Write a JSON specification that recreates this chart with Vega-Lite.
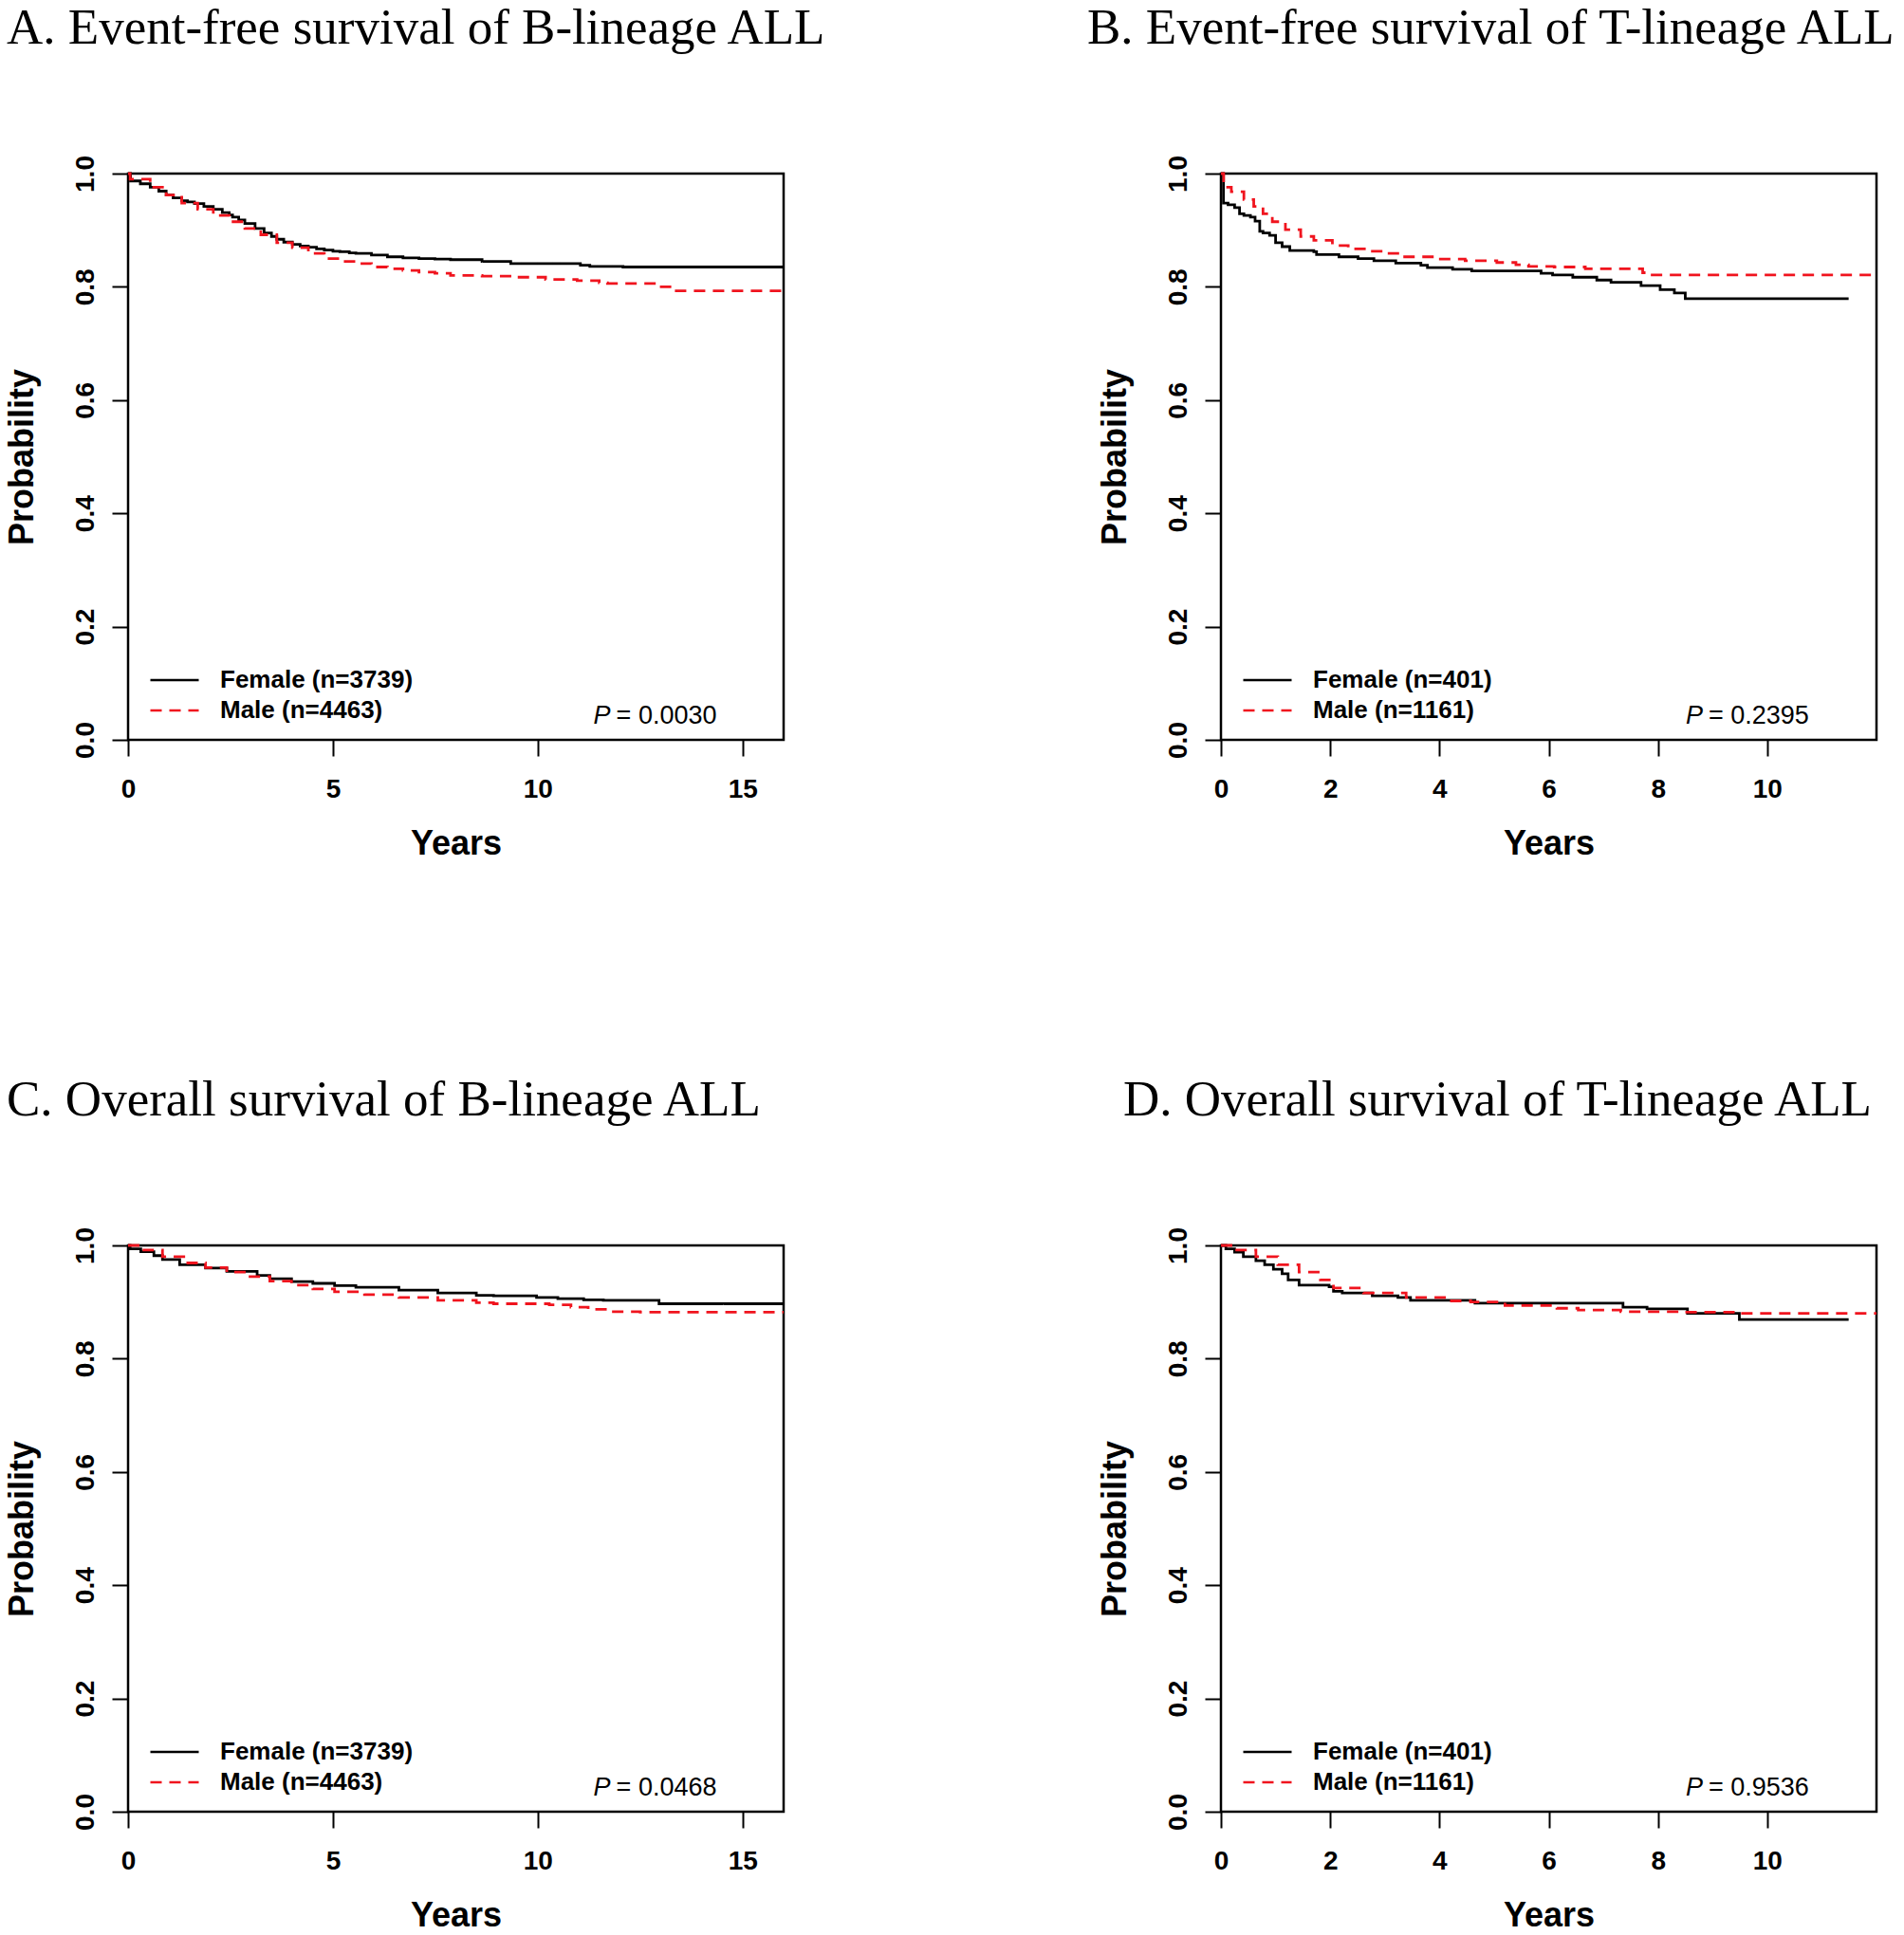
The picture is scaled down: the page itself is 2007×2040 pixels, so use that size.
{
  "$schema": "https://vega.github.io/schema/vega-lite/v6.json",
  "background": "white",
  "padding": {"left": 3, "top": 2, "right": 0, "bottom": 0},
  "datasets": {
    "km": [
      {"panel":"A","group":"Female (n=3739)","t":0,"s":1.0},
      {"panel":"A","group":"Female (n=3739)","t":0.06,"s":0.987},
      {"panel":"A","group":"Female (n=3739)","t":0.3,"s":0.982},
      {"panel":"A","group":"Female (n=3739)","t":0.54,"s":0.976},
      {"panel":"A","group":"Female (n=3739)","t":0.75,"s":0.969},
      {"panel":"A","group":"Female (n=3739)","t":0.93,"s":0.962},
      {"panel":"A","group":"Female (n=3739)","t":1.1,"s":0.957},
      {"panel":"A","group":"Female (n=3739)","t":1.31,"s":0.952},
      {"panel":"A","group":"Female (n=3739)","t":1.45,"s":0.95},
      {"panel":"A","group":"Female (n=3739)","t":1.62,"s":0.947},
      {"panel":"A","group":"Female (n=3739)","t":1.85,"s":0.942},
      {"panel":"A","group":"Female (n=3739)","t":2.08,"s":0.937},
      {"panel":"A","group":"Female (n=3739)","t":2.3,"s":0.931},
      {"panel":"A","group":"Female (n=3739)","t":2.47,"s":0.927},
      {"panel":"A","group":"Female (n=3739)","t":2.55,"s":0.923},
      {"panel":"A","group":"Female (n=3739)","t":2.7,"s":0.918},
      {"panel":"A","group":"Female (n=3739)","t":2.85,"s":0.912},
      {"panel":"A","group":"Female (n=3739)","t":3.1,"s":0.903},
      {"panel":"A","group":"Female (n=3739)","t":3.32,"s":0.895},
      {"panel":"A","group":"Female (n=3739)","t":3.5,"s":0.889},
      {"panel":"A","group":"Female (n=3739)","t":3.63,"s":0.884},
      {"panel":"A","group":"Female (n=3739)","t":3.8,"s":0.879},
      {"panel":"A","group":"Female (n=3739)","t":4.01,"s":0.875},
      {"panel":"A","group":"Female (n=3739)","t":4.2,"s":0.872},
      {"panel":"A","group":"Female (n=3739)","t":4.4,"s":0.87},
      {"panel":"A","group":"Female (n=3739)","t":4.6,"s":0.867},
      {"panel":"A","group":"Female (n=3739)","t":4.79,"s":0.865},
      {"panel":"A","group":"Female (n=3739)","t":5.0,"s":0.863},
      {"panel":"A","group":"Female (n=3739)","t":5.17,"s":0.862},
      {"panel":"A","group":"Female (n=3739)","t":5.4,"s":0.86},
      {"panel":"A","group":"Female (n=3739)","t":5.56,"s":0.859},
      {"panel":"A","group":"Female (n=3739)","t":5.94,"s":0.856},
      {"panel":"A","group":"Female (n=3739)","t":6.33,"s":0.853},
      {"panel":"A","group":"Female (n=3739)","t":6.71,"s":0.851},
      {"panel":"A","group":"Female (n=3739)","t":7.1,"s":0.85},
      {"panel":"A","group":"Female (n=3739)","t":7.49,"s":0.849},
      {"panel":"A","group":"Female (n=3739)","t":7.87,"s":0.848},
      {"panel":"A","group":"Female (n=3739)","t":8.64,"s":0.845},
      {"panel":"A","group":"Female (n=3739)","t":9.34,"s":0.841},
      {"panel":"A","group":"Female (n=3739)","t":11.04,"s":0.838},
      {"panel":"A","group":"Female (n=3739)","t":11.27,"s":0.836},
      {"panel":"A","group":"Female (n=3739)","t":12.08,"s":0.835},
      {"panel":"A","group":"Female (n=3739)","t":16.0,"s":0.835},
      {"panel":"A","group":"Male (n=4463)","t":0,"s":1.0},
      {"panel":"A","group":"Male (n=4463)","t":0.05,"s":0.99},
      {"panel":"A","group":"Male (n=4463)","t":0.54,"s":0.976},
      {"panel":"A","group":"Male (n=4463)","t":0.93,"s":0.962},
      {"panel":"A","group":"Male (n=4463)","t":1.31,"s":0.948},
      {"panel":"A","group":"Male (n=4463)","t":1.7,"s":0.937},
      {"panel":"A","group":"Male (n=4463)","t":2.08,"s":0.926},
      {"panel":"A","group":"Male (n=4463)","t":2.47,"s":0.915},
      {"panel":"A","group":"Male (n=4463)","t":2.85,"s":0.903},
      {"panel":"A","group":"Male (n=4463)","t":3.24,"s":0.892},
      {"panel":"A","group":"Male (n=4463)","t":3.63,"s":0.878},
      {"panel":"A","group":"Male (n=4463)","t":4.01,"s":0.869},
      {"panel":"A","group":"Male (n=4463)","t":4.4,"s":0.859},
      {"panel":"A","group":"Male (n=4463)","t":4.79,"s":0.85},
      {"panel":"A","group":"Male (n=4463)","t":5.17,"s":0.845},
      {"panel":"A","group":"Male (n=4463)","t":5.56,"s":0.841},
      {"panel":"A","group":"Male (n=4463)","t":5.94,"s":0.835},
      {"panel":"A","group":"Male (n=4463)","t":6.33,"s":0.832},
      {"panel":"A","group":"Male (n=4463)","t":6.71,"s":0.829},
      {"panel":"A","group":"Male (n=4463)","t":7.1,"s":0.826},
      {"panel":"A","group":"Male (n=4463)","t":7.49,"s":0.824},
      {"panel":"A","group":"Male (n=4463)","t":7.87,"s":0.82},
      {"panel":"A","group":"Male (n=4463)","t":8.64,"s":0.819},
      {"panel":"A","group":"Male (n=4463)","t":9.42,"s":0.817},
      {"panel":"A","group":"Male (n=4463)","t":10.19,"s":0.813},
      {"panel":"A","group":"Male (n=4463)","t":10.96,"s":0.811},
      {"panel":"A","group":"Male (n=4463)","t":11.5,"s":0.807},
      {"panel":"A","group":"Male (n=4463)","t":11.7,"s":0.806},
      {"panel":"A","group":"Male (n=4463)","t":12.97,"s":0.8},
      {"panel":"A","group":"Male (n=4463)","t":13.27,"s":0.793},
      {"panel":"A","group":"Male (n=4463)","t":16.0,"s":0.793},
      {"panel":"B","group":"Female (n=401)","t":0,"s":1.0},
      {"panel":"B","group":"Female (n=401)","t":0.046,"s":0.948},
      {"panel":"B","group":"Female (n=401)","t":0.13,"s":0.945},
      {"panel":"B","group":"Female (n=401)","t":0.25,"s":0.94},
      {"panel":"B","group":"Female (n=401)","t":0.34,"s":0.929},
      {"panel":"B","group":"Female (n=401)","t":0.42,"s":0.926},
      {"panel":"B","group":"Female (n=401)","t":0.54,"s":0.923},
      {"panel":"B","group":"Female (n=401)","t":0.625,"s":0.916},
      {"panel":"B","group":"Female (n=401)","t":0.71,"s":0.898},
      {"panel":"B","group":"Female (n=401)","t":0.77,"s":0.895},
      {"panel":"B","group":"Female (n=401)","t":0.89,"s":0.891},
      {"panel":"B","group":"Female (n=401)","t":1.0,"s":0.878},
      {"panel":"B","group":"Female (n=401)","t":1.12,"s":0.871},
      {"panel":"B","group":"Female (n=401)","t":1.26,"s":0.864},
      {"panel":"B","group":"Female (n=401)","t":1.7,"s":0.862},
      {"panel":"B","group":"Female (n=401)","t":1.75,"s":0.857},
      {"panel":"B","group":"Female (n=401)","t":2.16,"s":0.853},
      {"panel":"B","group":"Female (n=401)","t":2.51,"s":0.85},
      {"panel":"B","group":"Female (n=401)","t":2.8,"s":0.846},
      {"panel":"B","group":"Female (n=401)","t":3.2,"s":0.842},
      {"panel":"B","group":"Female (n=401)","t":3.66,"s":0.838},
      {"panel":"B","group":"Female (n=401)","t":3.78,"s":0.834},
      {"panel":"B","group":"Female (n=401)","t":4.24,"s":0.831},
      {"panel":"B","group":"Female (n=401)","t":4.59,"s":0.828},
      {"panel":"B","group":"Female (n=401)","t":5.86,"s":0.824},
      {"panel":"B","group":"Female (n=401)","t":6.07,"s":0.821},
      {"panel":"B","group":"Female (n=401)","t":6.44,"s":0.817},
      {"panel":"B","group":"Female (n=401)","t":6.88,"s":0.812},
      {"panel":"B","group":"Female (n=401)","t":7.14,"s":0.808},
      {"panel":"B","group":"Female (n=401)","t":7.69,"s":0.802},
      {"panel":"B","group":"Female (n=401)","t":8.04,"s":0.795},
      {"panel":"B","group":"Female (n=401)","t":8.3,"s":0.789},
      {"panel":"B","group":"Female (n=401)","t":8.5,"s":0.779},
      {"panel":"B","group":"Female (n=401)","t":11.49,"s":0.779},
      {"panel":"B","group":"Male (n=1161)","t":0,"s":1.0},
      {"panel":"B","group":"Male (n=1161)","t":0.05,"s":0.976},
      {"panel":"B","group":"Male (n=1161)","t":0.19,"s":0.968},
      {"panel":"B","group":"Male (n=1161)","t":0.42,"s":0.954},
      {"panel":"B","group":"Male (n=1161)","t":0.6,"s":0.942},
      {"panel":"B","group":"Male (n=1161)","t":0.77,"s":0.929},
      {"panel":"B","group":"Male (n=1161)","t":0.94,"s":0.915},
      {"panel":"B","group":"Male (n=1161)","t":1.18,"s":0.901},
      {"panel":"B","group":"Male (n=1161)","t":1.46,"s":0.889},
      {"panel":"B","group":"Male (n=1161)","t":1.7,"s":0.882},
      {"panel":"B","group":"Male (n=1161)","t":2.04,"s":0.873},
      {"panel":"B","group":"Male (n=1161)","t":2.33,"s":0.867},
      {"panel":"B","group":"Male (n=1161)","t":2.74,"s":0.863},
      {"panel":"B","group":"Male (n=1161)","t":3.03,"s":0.859},
      {"panel":"B","group":"Male (n=1161)","t":3.32,"s":0.853},
      {"panel":"B","group":"Male (n=1161)","t":3.9,"s":0.849},
      {"panel":"B","group":"Male (n=1161)","t":4.47,"s":0.846},
      {"panel":"B","group":"Male (n=1161)","t":5.05,"s":0.843},
      {"panel":"B","group":"Male (n=1161)","t":5.4,"s":0.839},
      {"panel":"B","group":"Male (n=1161)","t":5.63,"s":0.836},
      {"panel":"B","group":"Male (n=1161)","t":6.1,"s":0.835},
      {"panel":"B","group":"Male (n=1161)","t":6.67,"s":0.832},
      {"panel":"B","group":"Male (n=1161)","t":7.72,"s":0.825},
      {"panel":"B","group":"Male (n=1161)","t":7.83,"s":0.821},
      {"panel":"B","group":"Male (n=1161)","t":12.0,"s":0.821},
      {"panel":"C","group":"Female (n=3739)","t":0,"s":1.0},
      {"panel":"C","group":"Female (n=3739)","t":0.05,"s":0.994},
      {"panel":"C","group":"Female (n=3739)","t":0.31,"s":0.989},
      {"panel":"C","group":"Female (n=3739)","t":0.63,"s":0.982},
      {"panel":"C","group":"Female (n=3739)","t":0.84,"s":0.975},
      {"panel":"C","group":"Female (n=3739)","t":1.26,"s":0.966},
      {"panel":"C","group":"Female (n=3739)","t":1.89,"s":0.96},
      {"panel":"C","group":"Female (n=3739)","t":2.41,"s":0.954},
      {"panel":"C","group":"Female (n=3739)","t":3.15,"s":0.947},
      {"panel":"C","group":"Female (n=3739)","t":3.46,"s":0.941},
      {"panel":"C","group":"Female (n=3739)","t":3.99,"s":0.936},
      {"panel":"C","group":"Female (n=3739)","t":4.51,"s":0.933},
      {"panel":"C","group":"Female (n=3739)","t":5.04,"s":0.929},
      {"panel":"C","group":"Female (n=3739)","t":5.56,"s":0.926},
      {"panel":"C","group":"Female (n=3739)","t":6.61,"s":0.921},
      {"panel":"C","group":"Female (n=3739)","t":7.56,"s":0.916},
      {"panel":"C","group":"Female (n=3739)","t":8.5,"s":0.912},
      {"panel":"C","group":"Female (n=3739)","t":8.92,"s":0.911},
      {"panel":"C","group":"Female (n=3739)","t":9.97,"s":0.908},
      {"panel":"C","group":"Female (n=3739)","t":10.49,"s":0.906},
      {"panel":"C","group":"Female (n=3739)","t":11.12,"s":0.904},
      {"panel":"C","group":"Female (n=3739)","t":11.6,"s":0.903},
      {"panel":"C","group":"Female (n=3739)","t":12.96,"s":0.897},
      {"panel":"C","group":"Female (n=3739)","t":16.0,"s":0.897},
      {"panel":"C","group":"Male (n=4463)","t":0,"s":1.0},
      {"panel":"C","group":"Male (n=4463)","t":0.31,"s":0.992},
      {"panel":"C","group":"Male (n=4463)","t":0.84,"s":0.98},
      {"panel":"C","group":"Male (n=4463)","t":1.36,"s":0.969},
      {"panel":"C","group":"Male (n=4463)","t":1.89,"s":0.961},
      {"panel":"C","group":"Male (n=4463)","t":2.41,"s":0.953},
      {"panel":"C","group":"Male (n=4463)","t":2.94,"s":0.945},
      {"panel":"C","group":"Male (n=4463)","t":3.46,"s":0.937},
      {"panel":"C","group":"Male (n=4463)","t":3.99,"s":0.93},
      {"panel":"C","group":"Male (n=4463)","t":4.51,"s":0.923},
      {"panel":"C","group":"Male (n=4463)","t":5.04,"s":0.918},
      {"panel":"C","group":"Male (n=4463)","t":5.77,"s":0.913},
      {"panel":"C","group":"Male (n=4463)","t":6.61,"s":0.908},
      {"panel":"C","group":"Male (n=4463)","t":7.56,"s":0.903},
      {"panel":"C","group":"Male (n=4463)","t":8.5,"s":0.899},
      {"panel":"C","group":"Male (n=4463)","t":8.92,"s":0.897},
      {"panel":"C","group":"Male (n=4463)","t":10.28,"s":0.895},
      {"panel":"C","group":"Male (n=4463)","t":10.81,"s":0.891},
      {"panel":"C","group":"Male (n=4463)","t":11.23,"s":0.887},
      {"panel":"C","group":"Male (n=4463)","t":11.75,"s":0.883},
      {"panel":"C","group":"Male (n=4463)","t":12.5,"s":0.882},
      {"panel":"C","group":"Male (n=4463)","t":16.0,"s":0.882},
      {"panel":"D","group":"Female (n=401)","t":0,"s":1.0},
      {"panel":"D","group":"Female (n=401)","t":0.09,"s":0.994},
      {"panel":"D","group":"Female (n=401)","t":0.25,"s":0.988},
      {"panel":"D","group":"Female (n=401)","t":0.41,"s":0.98},
      {"panel":"D","group":"Female (n=401)","t":0.64,"s":0.973},
      {"panel":"D","group":"Female (n=401)","t":0.8,"s":0.966},
      {"panel":"D","group":"Female (n=401)","t":0.96,"s":0.958},
      {"panel":"D","group":"Female (n=401)","t":1.12,"s":0.95},
      {"panel":"D","group":"Female (n=401)","t":1.23,"s":0.939},
      {"panel":"D","group":"Female (n=401)","t":1.43,"s":0.93},
      {"panel":"D","group":"Female (n=401)","t":1.98,"s":0.927},
      {"panel":"D","group":"Female (n=401)","t":2.06,"s":0.919},
      {"panel":"D","group":"Female (n=401)","t":2.22,"s":0.916},
      {"panel":"D","group":"Female (n=401)","t":2.77,"s":0.911},
      {"panel":"D","group":"Female (n=401)","t":3.24,"s":0.908},
      {"panel":"D","group":"Female (n=401)","t":3.47,"s":0.903},
      {"panel":"D","group":"Female (n=401)","t":4.65,"s":0.898},
      {"panel":"D","group":"Female (n=401)","t":7.36,"s":0.891},
      {"panel":"D","group":"Female (n=401)","t":7.8,"s":0.888},
      {"panel":"D","group":"Female (n=401)","t":8.54,"s":0.88},
      {"panel":"D","group":"Female (n=401)","t":9.49,"s":0.869},
      {"panel":"D","group":"Female (n=401)","t":11.49,"s":0.869},
      {"panel":"D","group":"Male (n=1161)","t":0,"s":1.0},
      {"panel":"D","group":"Male (n=1161)","t":0.25,"s":0.992},
      {"panel":"D","group":"Male (n=1161)","t":0.64,"s":0.98},
      {"panel":"D","group":"Male (n=1161)","t":1.04,"s":0.966},
      {"panel":"D","group":"Male (n=1161)","t":1.43,"s":0.953},
      {"panel":"D","group":"Male (n=1161)","t":1.82,"s":0.939},
      {"panel":"D","group":"Male (n=1161)","t":2.06,"s":0.925},
      {"panel":"D","group":"Male (n=1161)","t":2.61,"s":0.916},
      {"panel":"D","group":"Male (n=1161)","t":3.39,"s":0.908},
      {"panel":"D","group":"Male (n=1161)","t":4.18,"s":0.902},
      {"panel":"D","group":"Male (n=1161)","t":4.57,"s":0.9},
      {"panel":"D","group":"Male (n=1161)","t":5.2,"s":0.894},
      {"panel":"D","group":"Male (n=1161)","t":6.15,"s":0.889},
      {"panel":"D","group":"Male (n=1161)","t":6.54,"s":0.886},
      {"panel":"D","group":"Male (n=1161)","t":7.32,"s":0.883},
      {"panel":"D","group":"Male (n=1161)","t":8.5,"s":0.882},
      {"panel":"D","group":"Male (n=1161)","t":9.45,"s":0.88},
      {"panel":"D","group":"Male (n=1161)","t":12.0,"s":0.88}
    ]
  },
  "config": {
    "view": {"stroke": "black", "strokeWidth": 2.5},
    "font": "Liberation Sans",
    "axis": {
      "domain": false, "grid": false, "tickColor": "black", "tickWidth": 2, "tickSize": 17,
      "labelColor": "black", "labelFont": "Liberation Sans", "labelFontWeight": "bold", "labelFontSize": 28,
      "labelFlush": false, "labelOverlap": false,
      "titleColor": "black", "titleFont": "Liberation Sans", "titleFontWeight": "bold", "titleFontSize": 36
    },
    "axisX": {"labelAngle": 0, "labelBaseline": "alphabetic", "labelPadding": 43, "titleBaseline": "alphabetic", "titleY": 120},
    "axisY": {"labelAngle": 270, "labelAlign": "center", "labelBaseline": "alphabetic", "labelPadding": 20, "titleAngle": 270, "titleAlign": "center", "titleBaseline": "alphabetic", "titleX": -101, "titleY": 298.5},
    "title": {"font": "Liberation Serif", "fontSize": 53, "fontWeight": "normal", "color": "black", "anchor": "start", "frame": "group", "baseline": "alphabetic", "offset": 107}
  },
  "columns": 2,
  "spacing": {"row": 533, "column": 461},
  "bounds": "flush",
  "resolve": {"scale": {"color": "independent", "strokeDash": "independent", "x": "independent", "y": "independent"}, "legend": {"color": "independent", "strokeDash": "independent"}},
  "concat": [
    {
      "title": {"text": "A. Event-free survival of B-lineage ALL", "dx": -128},
      "width": 691, "height": 597,
      "layer": [
        {
          "data": {"name": "km"},
          "transform": [{"filter": "datum.panel === 'A'"}],
          "mark": {"type": "line", "interpolate": "step-after", "strokeWidth": 2.8, "strokeCap": "butt"},
          "encoding": {
            "x": {"field": "t", "type": "quantitative", "scale": {"domain": [0, 16], "nice": false, "zero": false}, "axis": {"values": [0, 5, 10, 15], "format": "d", "title": "Years"}},
            "y": {"field": "s", "type": "quantitative", "scale": {"domain": [0, 1], "nice": false}, "axis": {"values": [0, 0.2, 0.4, 0.6, 0.8, 1.0], "format": ".1f", "title": "Probability"}},
            "color": {"field": "group", "type": "nominal", "scale": {"domain": ["Female (n=3739)", "Male (n=4463)"], "range": ["black", "#f0141e"]},
              "legend": {"title": null, "orient": "none", "legendX": 22, "legendY": 518, "symbolType": "stroke", "symbolSize": 2601, "symbolStrokeWidth": 2.5, "clipHeight": 32, "rowPadding": 0, "padding": 0, "labelOffset": 21, "labelFont": "Liberation Sans", "labelFontWeight": "bold", "labelFontSize": 26, "labelColor": "black", "labelLimit": 400}},
            "strokeDash": {"field": "group", "type": "nominal", "scale": {"domain": ["Female (n=3739)", "Male (n=4463)"], "range": [[1, 0], [12, 8]]},
              "legend": {"title": null, "orient": "none", "legendX": 22, "legendY": 518, "symbolType": "stroke", "symbolSize": 2601, "symbolStrokeWidth": 2.5, "clipHeight": 32, "rowPadding": 0, "padding": 0, "labelOffset": 21, "labelFont": "Liberation Sans", "labelFontWeight": "bold", "labelFontSize": 26, "labelColor": "black", "labelLimit": 400}}
          }
        },
        {
          "data": {"values": [{}]},
          "mark": {"type": "text", "text": "P", "font": "Liberation Sans", "fontStyle": "italic", "fontSize": 27, "align": "left", "baseline": "alphabetic", "color": "black"},
          "encoding": {"x": {"datum": 11.36, "type": "quantitative"}, "y": {"datum": 0.028, "type": "quantitative"}}
        },
        {
          "data": {"values": [{}]},
          "mark": {"type": "text", "text": "= 0.0030", "dx": 24, "font": "Liberation Sans", "fontSize": 27, "align": "left", "baseline": "alphabetic", "color": "black"},
          "encoding": {"x": {"datum": 11.36, "type": "quantitative"}, "y": {"datum": 0.028, "type": "quantitative"}}
        }
      ]
    },
    {
      "title": {"text": "B. Event-free survival of T-lineage ALL", "dx": -141},
      "width": 691, "height": 597,
      "layer": [
        {
          "data": {"name": "km"},
          "transform": [{"filter": "datum.panel === 'B'"}],
          "mark": {"type": "line", "interpolate": "step-after", "strokeWidth": 2.8, "strokeCap": "butt"},
          "encoding": {
            "x": {"field": "t", "type": "quantitative", "scale": {"domain": [0, 12], "nice": false, "zero": false}, "axis": {"values": [0, 2, 4, 6, 8, 10], "format": "d", "title": "Years"}},
            "y": {"field": "s", "type": "quantitative", "scale": {"domain": [0, 1], "nice": false}, "axis": {"values": [0, 0.2, 0.4, 0.6, 0.8, 1.0], "format": ".1f", "title": "Probability"}},
            "color": {"field": "group", "type": "nominal", "scale": {"domain": ["Female (n=401)", "Male (n=1161)"], "range": ["black", "#f0141e"]},
              "legend": {"title": null, "orient": "none", "legendX": 22, "legendY": 518, "symbolType": "stroke", "symbolSize": 2601, "symbolStrokeWidth": 2.5, "clipHeight": 32, "rowPadding": 0, "padding": 0, "labelOffset": 21, "labelFont": "Liberation Sans", "labelFontWeight": "bold", "labelFontSize": 26, "labelColor": "black", "labelLimit": 400}},
            "strokeDash": {"field": "group", "type": "nominal", "scale": {"domain": ["Female (n=401)", "Male (n=1161)"], "range": [[1, 0], [12, 8]]},
              "legend": {"title": null, "orient": "none", "legendX": 22, "legendY": 518, "symbolType": "stroke", "symbolSize": 2601, "symbolStrokeWidth": 2.5, "clipHeight": 32, "rowPadding": 0, "padding": 0, "labelOffset": 21, "labelFont": "Liberation Sans", "labelFontWeight": "bold", "labelFontSize": 26, "labelColor": "black", "labelLimit": 400}}
          }
        },
        {
          "data": {"values": [{}]},
          "mark": {"type": "text", "text": "P", "font": "Liberation Sans", "fontStyle": "italic", "fontSize": 27, "align": "left", "baseline": "alphabetic", "color": "black"},
          "encoding": {"x": {"datum": 8.51, "type": "quantitative"}, "y": {"datum": 0.028, "type": "quantitative"}}
        },
        {
          "data": {"values": [{}]},
          "mark": {"type": "text", "text": "= 0.2395", "dx": 24, "font": "Liberation Sans", "fontSize": 27, "align": "left", "baseline": "alphabetic", "color": "black"},
          "encoding": {"x": {"datum": 8.51, "type": "quantitative"}, "y": {"datum": 0.028, "type": "quantitative"}}
        }
      ]
    },
    {
      "title": {"text": "C. Overall survival of B-lineage ALL", "dx": -128},
      "width": 691, "height": 597,
      "layer": [
        {
          "data": {"name": "km"},
          "transform": [{"filter": "datum.panel === 'C'"}],
          "mark": {"type": "line", "interpolate": "step-after", "strokeWidth": 2.8, "strokeCap": "butt"},
          "encoding": {
            "x": {"field": "t", "type": "quantitative", "scale": {"domain": [0, 16], "nice": false, "zero": false}, "axis": {"values": [0, 5, 10, 15], "format": "d", "title": "Years"}},
            "y": {"field": "s", "type": "quantitative", "scale": {"domain": [0, 1], "nice": false}, "axis": {"values": [0, 0.2, 0.4, 0.6, 0.8, 1.0], "format": ".1f", "title": "Probability"}},
            "color": {"field": "group", "type": "nominal", "scale": {"domain": ["Female (n=3739)", "Male (n=4463)"], "range": ["black", "#f0141e"]},
              "legend": {"title": null, "orient": "none", "legendX": 22, "legendY": 518, "symbolType": "stroke", "symbolSize": 2601, "symbolStrokeWidth": 2.5, "clipHeight": 32, "rowPadding": 0, "padding": 0, "labelOffset": 21, "labelFont": "Liberation Sans", "labelFontWeight": "bold", "labelFontSize": 26, "labelColor": "black", "labelLimit": 400}},
            "strokeDash": {"field": "group", "type": "nominal", "scale": {"domain": ["Female (n=3739)", "Male (n=4463)"], "range": [[1, 0], [12, 8]]},
              "legend": {"title": null, "orient": "none", "legendX": 22, "legendY": 518, "symbolType": "stroke", "symbolSize": 2601, "symbolStrokeWidth": 2.5, "clipHeight": 32, "rowPadding": 0, "padding": 0, "labelOffset": 21, "labelFont": "Liberation Sans", "labelFontWeight": "bold", "labelFontSize": 26, "labelColor": "black", "labelLimit": 400}}
          }
        },
        {
          "data": {"values": [{}]},
          "mark": {"type": "text", "text": "P", "font": "Liberation Sans", "fontStyle": "italic", "fontSize": 27, "align": "left", "baseline": "alphabetic", "color": "black"},
          "encoding": {"x": {"datum": 11.36, "type": "quantitative"}, "y": {"datum": 0.028, "type": "quantitative"}}
        },
        {
          "data": {"values": [{}]},
          "mark": {"type": "text", "text": "= 0.0468", "dx": 24, "font": "Liberation Sans", "fontSize": 27, "align": "left", "baseline": "alphabetic", "color": "black"},
          "encoding": {"x": {"datum": 11.36, "type": "quantitative"}, "y": {"datum": 0.028, "type": "quantitative"}}
        }
      ]
    },
    {
      "title": {"text": "D. Overall survival of T-lineage ALL", "dx": -103},
      "width": 691, "height": 597,
      "layer": [
        {
          "data": {"name": "km"},
          "transform": [{"filter": "datum.panel === 'D'"}],
          "mark": {"type": "line", "interpolate": "step-after", "strokeWidth": 2.8, "strokeCap": "butt"},
          "encoding": {
            "x": {"field": "t", "type": "quantitative", "scale": {"domain": [0, 12], "nice": false, "zero": false}, "axis": {"values": [0, 2, 4, 6, 8, 10], "format": "d", "title": "Years"}},
            "y": {"field": "s", "type": "quantitative", "scale": {"domain": [0, 1], "nice": false}, "axis": {"values": [0, 0.2, 0.4, 0.6, 0.8, 1.0], "format": ".1f", "title": "Probability"}},
            "color": {"field": "group", "type": "nominal", "scale": {"domain": ["Female (n=401)", "Male (n=1161)"], "range": ["black", "#f0141e"]},
              "legend": {"title": null, "orient": "none", "legendX": 22, "legendY": 518, "symbolType": "stroke", "symbolSize": 2601, "symbolStrokeWidth": 2.5, "clipHeight": 32, "rowPadding": 0, "padding": 0, "labelOffset": 21, "labelFont": "Liberation Sans", "labelFontWeight": "bold", "labelFontSize": 26, "labelColor": "black", "labelLimit": 400}},
            "strokeDash": {"field": "group", "type": "nominal", "scale": {"domain": ["Female (n=401)", "Male (n=1161)"], "range": [[1, 0], [12, 8]]},
              "legend": {"title": null, "orient": "none", "legendX": 22, "legendY": 518, "symbolType": "stroke", "symbolSize": 2601, "symbolStrokeWidth": 2.5, "clipHeight": 32, "rowPadding": 0, "padding": 0, "labelOffset": 21, "labelFont": "Liberation Sans", "labelFontWeight": "bold", "labelFontSize": 26, "labelColor": "black", "labelLimit": 400}}
          }
        },
        {
          "data": {"values": [{}]},
          "mark": {"type": "text", "text": "P", "font": "Liberation Sans", "fontStyle": "italic", "fontSize": 27, "align": "left", "baseline": "alphabetic", "color": "black"},
          "encoding": {"x": {"datum": 8.51, "type": "quantitative"}, "y": {"datum": 0.028, "type": "quantitative"}}
        },
        {
          "data": {"values": [{}]},
          "mark": {"type": "text", "text": "= 0.9536", "dx": 24, "font": "Liberation Sans", "fontSize": 27, "align": "left", "baseline": "alphabetic", "color": "black"},
          "encoding": {"x": {"datum": 8.51, "type": "quantitative"}, "y": {"datum": 0.028, "type": "quantitative"}}
        }
      ]
    }
  ]
}
